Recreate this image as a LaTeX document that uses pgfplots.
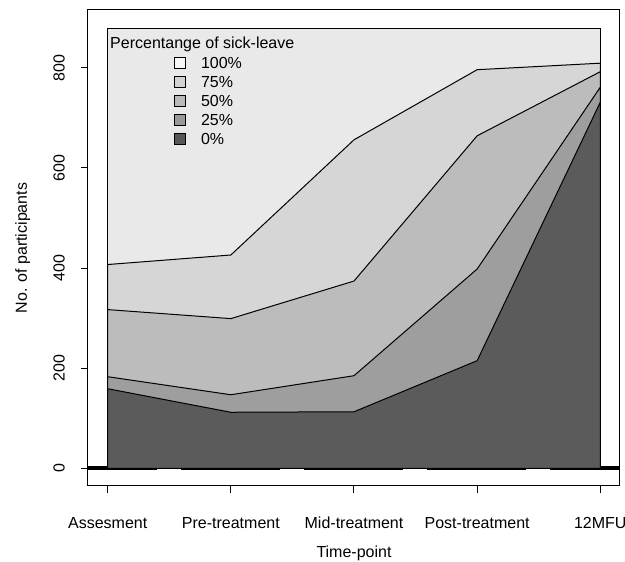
\documentclass[border=0pt]{standalone}
\usepackage{fontspec}
\setmainfont{Liberation Sans}
\usepackage{pgfplots}
\pgfplotsset{compat=1.18}
\definecolor{cA}{HTML}{E9E9E9}
\definecolor{cB}{HTML}{D6D6D6}
\definecolor{cC}{HTML}{BCBCBC}
\definecolor{cD}{HTML}{9E9E9E}
\definecolor{cE}{HTML}{5B5B5B}
\definecolor{lA}{HTML}{F6F6F6}
\definecolor{lB}{HTML}{D2D2D2}
\definecolor{lC}{HTML}{B9B9B9}
\definecolor{lD}{HTML}{999999}
\definecolor{lE}{HTML}{575757}
\begin{document}
\fontsize{16}{19}\selectfont
\begin{tikzpicture}
\useasboundingbox (-88pt,-76pt) rectangle (537pt,486pt);
\begin{axis}[
  at={(0,0)}, anchor=south west,
  scale only axis, width=532pt, height=476pt,
  xmin=0.84, xmax=5.16, ymin=-35.2, ymax=915.2,
  xtick={1,2,3,4,5},
  xticklabels={Assesment,Pre-treatment,Mid-treatment,Post-treatment,12MFU},
  ytick={0,200,400,600,800},
  xtick pos=left, ytick pos=left,
  tick align=outside, major tick length=7pt,
  axis line style={line width=1pt},
  tick style={line width=1pt, black},
  /pgf/number format/assume math mode=true,
  ticklabel style={font=\fontsize{16}{19}\selectfont},
  xticklabel style={anchor=base, inner sep=0pt, yshift=-36pt},
  yticklabel style={xshift=-16pt, rotate=90, anchor=south, inner sep=0pt},
  xlabel={Time-point}, ylabel={No. of participants},
  every axis x label/.style={at={(axis description cs:0.5,-0.151)}, anchor=base, font=\fontsize{16}{19}\selectfont},
  every axis y label/.style={at={(axis description cs:-0.1147,0.5)}, rotate=90, anchor=base, font=\fontsize{16}{19}\selectfont},
  legend style={draw=none, fill=none, inner sep=0pt, row sep=0pt, column sep=15pt,
    at={(axis description cs:0.1617,0.9023)}, anchor=north west,
    font=\fontsize{16}{19}\selectfont,
    nodes={inner sep=0pt, text height=12pt, text depth=7pt}},
  legend cell align=left,
  legend image code/.code={\draw[#1] (0pt,-2pt) rectangle (11pt,9pt);},
]
\addplot[black, line width=4pt, dash pattern=on 99pt off 24pt, dash phase=30pt, forget plot]
  coordinates {(0.84,0) (5.16,0)};
\addplot[fill=cA, draw=black, line width=1pt, forget plot]
  coordinates {(1,0) (1,878) (2,878) (3,878) (4,878) (5,878) (5,0) (1,0)};
\addplot[fill=cB, draw=black, line width=1pt, forget plot]
  coordinates {(1,0) (1,407) (2,426) (3,656) (4,796) (5,809) (5,0) (1,0)};
\addplot[fill=cC, draw=black, line width=1pt, forget plot]
  coordinates {(1,0) (1,317) (2,299) (3,374) (4,664) (5,792) (5,0) (1,0)};
\addplot[fill=cD, draw=black, line width=1pt, forget plot]
  coordinates {(1,0) (1,183) (2,147) (3,185) (4,398) (5,761) (5,0) (1,0)};
\addplot[fill=cE, draw=black, line width=1pt, forget plot]
  coordinates {(1,0) (1,159) (2,112) (3,113) (4,215) (5,731) (5,0) (1,0)};
\addlegendimage{fill=lA, draw=black, line width=0.8pt}
\addlegendimage{fill=lB, draw=black, line width=0.8pt}
\addlegendimage{fill=lC, draw=black, line width=0.8pt}
\addlegendimage{fill=lD, draw=black, line width=0.8pt}
\addlegendimage{fill=lE, draw=black, line width=0.8pt}
\legend{100\%,75\%,50\%,25\%,0\%}
\node[anchor=base west, inner sep=0pt, font=\fontsize{16}{19}\selectfont]
  at (axis description cs:0.0414,0.920) {Percentange of sick-leave};
\end{axis}
\end{tikzpicture}
\end{document}
